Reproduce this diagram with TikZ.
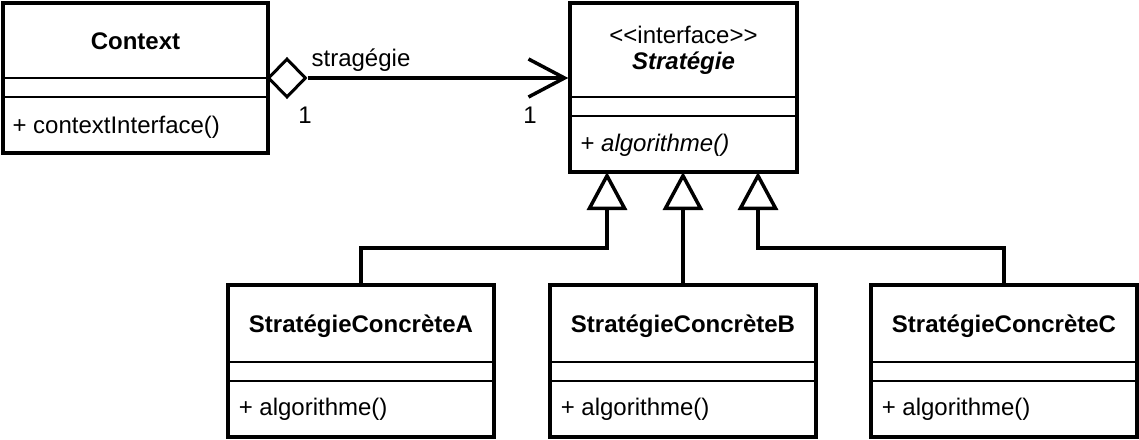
\documentclass[tikz,border=0pt]{standalone}
\usepackage{fontspec}
\setmainfont{Liberation Sans}
\usetikzlibrary{arrows.meta,shapes.geometric}

\tikzset{
  classbox/.style = {draw, line width = 3.5pt, inner sep = 0pt},
  sepline/.style = {line width = 2pt},
  assoc/.style = {line width = 3.5pt, -{Straight Barb[length = 36pt, width = 38pt]}},
  inherit/.style = {line width = 3.5pt, -{Triangle[open, length = 38pt, width = 40pt]}},
}

\begin{document}
\begin{tikzpicture}[x = 1pt, y = -1pt, font = \fontsize{24}{28}\selectfont]
        \useasboundingbox (0, 0) rectangle (1139, 439);

        % Context
        \node[classbox, minimum width = 265pt, minimum height = 150pt] (context) at (135.5, 78) {};
        \draw[sepline] (context.west |- 0, 78) -- (context.east |- 0, 78);
        \draw[sepline] (context.west |- 0, 97) -- (context.east |- 0, 97);
        \node[font = \fontsize{24}{28}\selectfont\bfseries] (contextname) at (135.5, 41) {Context};
        \node[anchor = west] (contextop) at (9, 127) {+ contextInterface()};

        % interface
        \node[classbox, minimum width = 227pt, minimum height = 169pt] (strat) at (683.5, 87.5) {};
        \draw[sepline] (strat.west |- 0, 97) -- (strat.east |- 0, 97);
        \draw[sepline] (strat.west |- 0, 116) -- (strat.east |- 0, 116);
        \node (stereo) at (683.5, 35) {<{}<interface>{}>};
        \node[font = \fontsize{24}{28}\selectfont\bfseries\itshape] (stratname) at (683.5, 63) {Stratégie};
        \node[anchor = west] (stratop) at (577, 145) {+ \textit{algorithme()}};

        % aggregation
        \node[draw, fill = white, diamond, line width = 3pt, inner sep = 0pt,
              minimum width = 38pt, minimum height = 39pt] (agg) at (287, 78) {};
        \draw[assoc] (agg.east) -- (strat.west |- agg);
        \node (role) at (361, 60) {stragégie};
        \node (multl) at (305, 115) {1};
        \node (multr) at (530, 115) {1};

        % concrete strategies
        \node[classbox, minimum width = 266pt, minimum height = 152pt] (concA) at (361, 361) {};
        \node[classbox, minimum width = 266pt, minimum height = 152pt] (concB) at (683, 361) {};
        \node[classbox, minimum width = 266pt, minimum height = 152pt] (concC) at (1004, 361) {};
        \foreach \c/\n in {concA/A, concB/B, concC/C} {
          \draw[sepline] (\c.west |- 0, 362) -- (\c.east |- 0, 362);
          \draw[sepline] (\c.west |- 0, 381) -- (\c.east |- 0, 381);
          \node[font = \fontsize{24}{28}\selectfont\bfseries] at (\c |- 0, 326) {StratégieConcrète\n};
          \node[anchor = west] at ([xshift = 9pt] \c.west |- 0, 409) {+ algorithme()};
        }

        % generalisation
        \coordinate (tipA) at (607, 172);
        \coordinate (tipB) at (683, 172);
        \coordinate (tipC) at (758, 172);
        \coordinate (bend) at (0, 248);
        \draw[inherit] (concA.north) |- (bend -| tipA) -- (tipA);
        \draw[inherit] (concB.north) -- (tipB);
        \draw[inherit] (concC.north) |- (bend -| tipC) -- (tipC);
  \end{tikzpicture}
\end{document}
